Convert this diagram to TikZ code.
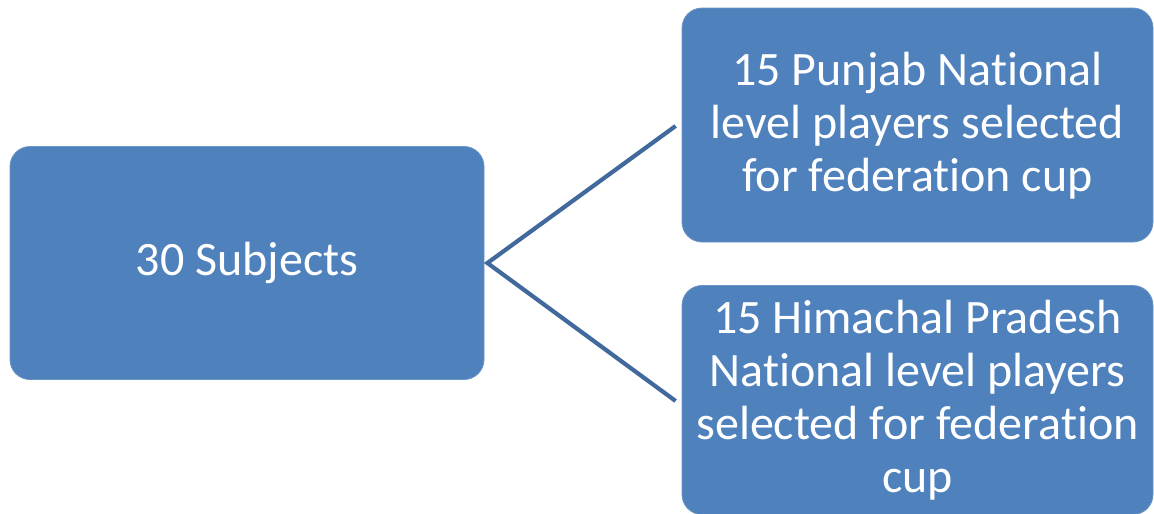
\documentclass[tikz,border=0pt]{standalone}
\usepackage{fontspec}
\setmainfont{Carlito}[RawFeature={-liga;-clig;-calt;-dlig}]
\definecolor{boxblue}{HTML}{4F81BD}
\definecolor{lineblue}{HTML}{41699B}
\begin{document}
\begin{tikzpicture}[x=1pt,y=-1pt,
  blockbox/.style={fill=boxblue, draw=boxblue!85!white, line width=0.8pt, rounded corners=20pt,
    text=white, align=center, inner sep=0pt,
    font=\fontsize{48}{53}\selectfont},
  link/.style={draw=lineblue, line width=4.2pt}]
\useasboundingbox (0,0) rectangle (1154,514);
\node[blockbox, minimum width=474pt, minimum height=233pt] (src) at (247,263) {30 Subjects};
\node[blockbox, minimum width=471pt, minimum height=234pt, text depth=6pt] (top) at (917.5,125) {15 Punjab National\\level players selected\\for federation cup};
\node[blockbox, minimum width=471pt, minimum height=229pt] (bot) at (917.5,400) {15 Himachal Pradesh\\National level players\\selected for federation\\cup};
\coordinate (hub) at ([xshift=3pt]src.east);
\draw[link] ([xshift=-6pt,yshift=-1pt]top.west) -- (hub) -- ([xshift=-6pt,yshift=-1pt]bot.west);
\end{tikzpicture}
\end{document}
